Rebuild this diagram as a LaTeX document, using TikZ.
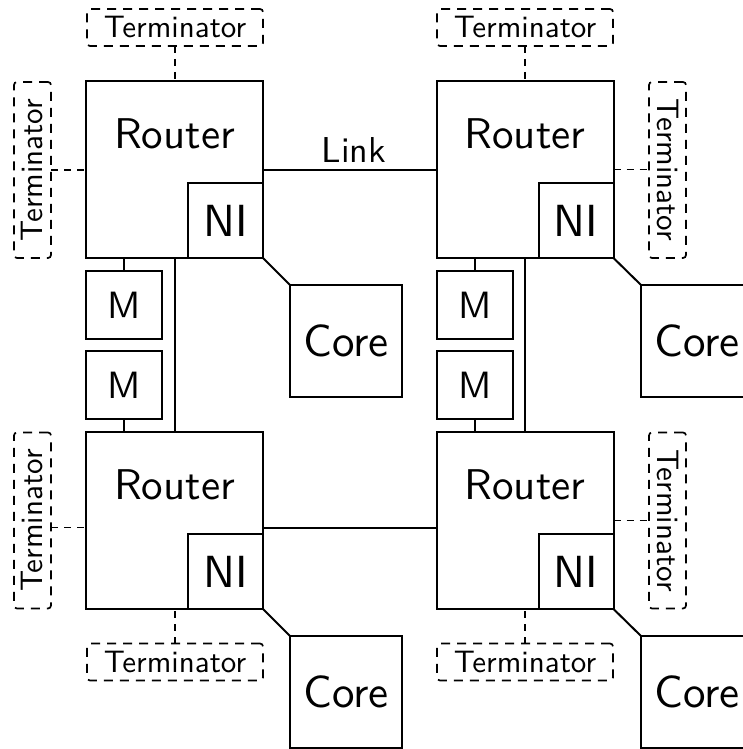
\documentclass[tikz,border=0pt]{standalone}
\usepackage{fontspec}
\setsansfont{lmsans10-regular.otf}
\usepackage{graphicx}
\begin{document}
\begin{tikzpicture}[x=1pt,y=-1pt,
  every node/.style={font=\sffamily},
  box/.style={draw, line width=2pt, inner sep=0pt, outer sep=0pt, rectangle},
  router/.style={box, minimum width=177pt, minimum height=177pt},
  rlabel/.style={anchor=base, inner sep=0pt, font=\sffamily\fontsize{43}{50}\selectfont},
  ni/.style={box, minimum size=75pt, font=\sffamily\fontsize{45}{54}\selectfont},
  mem/.style={box, minimum width=76pt, minimum height=68pt, font=\sffamily\fontsize{38}{46}\selectfont},
  core/.style={box, minimum size=112pt, font=\sffamily\fontsize{45}{54}\selectfont},
  term/.style={draw, line width=1.7pt, dash pattern=on 9pt off 7pt, rounded corners=3pt,
    inner sep=0pt, outer sep=0pt, font=\sffamily\fontsize{31}{37}\selectfont},
  hterm/.style={term, minimum width=176pt, minimum height=37pt},
  vterm/.style={term, minimum width=37pt, minimum height=176pt},
  wire/.style={line width=2pt},
  tie/.style={line width=1.7pt, dash pattern=on 7pt off 6pt},
]
\fill[white] (0,0) rectangle (743,749);
\useasboundingbox (0,0) rectangle (743,749);

% ---- tiles: router, network interface, memories, core ----
\node[router] (r11) at (174.5,169.5) {};
\node[rlabel] (r11t) at (174.5,148) {Router};
\node[ni, anchor=south east] (n11) at (r11.south east) {NI};
\node[core, anchor=north west] (c11) at (290,285) {Core};
\node[mem] (m11a) at (124,305) {M};
\node[mem] (m11b) at (124,385) {M};

\node[router] (r12) at (525,169.5) {};
\node[rlabel] (r12t) at (525,148) {Router};
\node[ni, anchor=south east] (n12) at (r12.south east) {NI};
\node[core, anchor=north west] (c12) at (641,285) {Core};
\node[mem] (m12a) at (475,305) {M};
\node[mem] (m12b) at (475,385) {M};

\node[router] (r21) at (174.5,520.5) {};
\node[rlabel] (r21t) at (174.5,499) {Router};
\node[ni, anchor=south east] (n21) at (r21.south east) {NI};
\node[core, anchor=north west] (c21) at (290,636) {Core};

\node[router] (r22) at (525,520.5) {};
\node[rlabel] (r22t) at (525,499) {Router};
\node[ni, anchor=south east] (n22) at (r22.south east) {NI};
\node[core, anchor=north west] (c22) at (641,636) {Core};

% ---- NI to core ----
\draw[wire] (n11.south east) -- (c11.north west);
\draw[wire] (n12.south east) -- (c12.north west);
\draw[wire] (n21.south east) -- (c21.north west);
\draw[wire] (n22.south east) -- (c22.north west);

% ---- links ----
\draw[wire] (r11.east) -- node[name=lnk, anchor=base, inner sep=0pt, yshift=7pt, xshift=4pt,
  font=\sffamily\fontsize{36}{43}\selectfont] {Link} (r12.west);
\coordinate (l2a) at ([yshift=-7pt]r21.east);
\draw[wire] (l2a) -- (l2a -| r22.west);
\draw[wire] (r11.south) -- (r21.north);
\draw[wire] (r12.south) -- (r22.north);

% ---- memories ----
\draw[wire] (m11a.north) -- (m11a.north |- r11.south);
\draw[wire] (m11b.south) -- (m11b.south |- r21.north);
\draw[wire] (m12a.north) -- (m12a.north |- r12.south);
\draw[wire] (m12b.south) -- (m12b.south |- r22.north);

% ---- terminators ----
\node[hterm] (t11n) at (175,27.5) {Terminator};
\node[vterm] (t11w) at (32.5,170) {\rotatebox{90}{Terminator}};
\node[hterm] (t12n) at (525,27.5) {Terminator};
\node[vterm] (t12e) at (667.5,170) {\rotatebox{-90}{Terminator}};
\node[vterm] (t21w) at (32.5,520.5) {\rotatebox{90}{Terminator}};
\node[hterm] (t21s) at (175,662) {Terminator};
\node[vterm] (t22e) at (667.5,520.5) {\rotatebox{-90}{Terminator}};
\node[hterm] (t22s) at (525,662) {Terminator};

\draw[tie] (t11n.south) -- (t11n.south |- r11.north);
\draw[tie] (t11w.east) -- (t11w.east -| r11.west);
\draw[tie] (t12n.south) -- (t12n.south |- r12.north);
\draw[tie] (r12.east) -- (r12.east -| t12e.west);
\coordinate (t21p) at ([yshift=-7pt]t21w.east);
\draw[tie] (t21p) -- (t21p -| r21.west);
\draw[tie] (t21s.north) -- (t21s.north |- r21.south);
\draw[tie] (r22.east) -- (r22.east -| t22e.west);
\draw[tie] (t22s.north) -- (t22s.north |- r22.south);
\end{tikzpicture}
\end{document}
